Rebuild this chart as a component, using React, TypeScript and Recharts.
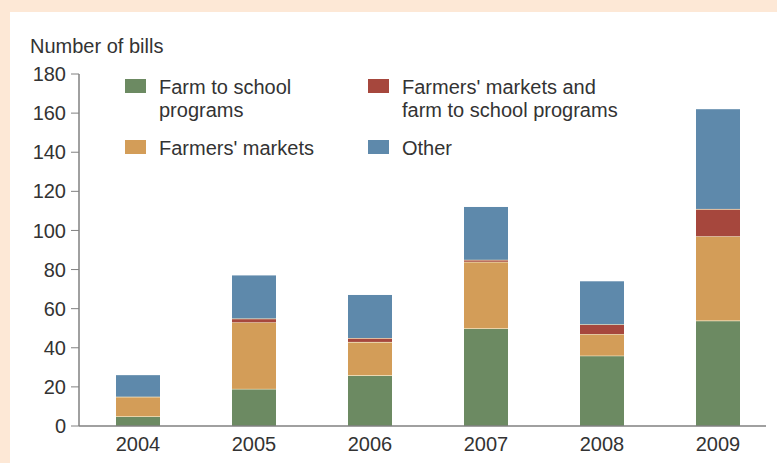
import React from "react";
import { BarChart, Bar, XAxis, YAxis, Legend } from "recharts";

const YEARS = ["2004", "2005", "2006", "2007", "2008", "2009"];
const FARM_TO_SCHOOL = [5, 19, 26, 50, 36, 54];
const FARMERS_MARKETS = [10, 34, 17, 34, 11, 43];
const BOTH = [0, 2, 2, 1, 5, 14];
const OTHER = [11, 22, 22, 27, 22, 51];
const Y_TICKS = [0, 20, 40, 60, 80, 100, 120, 140, 160, 180];
const BOUNDARY_TICKS = [0, 1, 2, 3, 4, 5, 6];

const COLORS = {
  farm: "#6c8a62",
  markets: "#d39d58",
  both: "#a6473d",
  other: "#5e89ab",
};

const AXIS = "#808080";
const TEXT = "#333333";
const FONT = "'Liberation Sans', Arial, sans-serif";
const FS = 20;

const data = YEARS.map((year, i) => ({
  year,
  farm: FARM_TO_SCHOOL[i],
  markets: FARMERS_MARKETS[i],
  both: BOTH[i],
  other: OTHER[i],
}));

// segment with a pale separator on top, like the original
const segment = (topLine: boolean) => (props: any) => {
  const { x, y, width, height, fill } = props;
  if (!height || height <= 0) return <g />;
  return (
    <g>
      <rect x={x} y={y} width={width} height={height} fill={fill} />
      {topLine && (
        <line x1={x} x2={x + width} y1={y} y2={y} stroke="#f1e3c2" strokeWidth={1.5} />
      )}
    </g>
  );
};

const legendItems = [
  { color: COLORS.farm, lines: ["Farm to school", "programs"], left: 115, top: 67 },
  { color: COLORS.markets, lines: ["Farmers' markets"], left: 115, top: 128 },
  { color: COLORS.both, lines: ["Farmers' markets and", "farm to school programs"], left: 358, top: 67 },
  { color: COLORS.other, lines: ["Other"], left: 358, top: 128 },
];

function LegendBox() {
  return (
    <div style={{ position: "relative", width: 700, height: 120 }}>
      {legendItems.map((it) => (
        <div key={it.lines[0]} style={{ position: "absolute", left: it.left, top: it.top }}>
          <span
            style={{
              position: "absolute",
              left: 0,
              top: 0,
              width: 21,
              height: 14,
              backgroundColor: it.color,
            }}
          />
          <div
            style={{
              position: "absolute",
              left: 34,
              top: -3,
              whiteSpace: "nowrap",
              fontSize: FS,
              lineHeight: "23px",
              color: TEXT,
            }}
          >
            {it.lines.map((l) => (
              <div key={l}>{l}</div>
            ))}
          </div>
        </div>
      ))}
    </div>
  );
}

export default function App() {
  return (
    <div
      style={{
        position: "relative",
        width: 777,
        height: 463,
        background: "#fde8d6",
        fontFamily: FONT,
        overflow: "hidden",
      }}
    >
      <style>{"body{margin:0}"}</style>
      <div
        style={{
          position: "absolute",
          left: 10,
          top: 12,
          width: 767,
          height: 451,
          background: "#ffffff",
        }}
      >
        <div
          style={{
            position: "absolute",
            left: 20,
            top: 23,
            fontSize: FS,
            color: TEXT,
            whiteSpace: "nowrap",
          }}
        >
          Number of bills
        </div>
        <BarChart
          width={767}
          height={451}
          data={data}
          margin={{ top: 62, right: 11, left: 0, bottom: 7 }}
          barSize={44}
          style={{ fontFamily: FONT }}
        >
          <XAxis
            xAxisId="grid"
            type="number"
            domain={[0, 6]}
            ticks={BOUNDARY_TICKS}
            tick={false}
            tickSize={10}
            axisLine={false}
            stroke={AXIS}
            height={0}
            allowDataOverflow
          />
          <XAxis
            xAxisId="cat"
            dataKey="year"
            tickLine={false}
            tickSize={0}
            tickMargin={11}
            padding={{ left: 1, right: -10 }}
            axisLine={{ stroke: AXIS, strokeWidth: 1.5 }}
            tick={{ fill: TEXT, fontSize: FS }}
            height={30}
            interval={0}
          />
          <YAxis
            domain={[0, 180]}
            ticks={Y_TICKS}
            width={69}
            tickSize={8}
            tickMargin={5}
            axisLine={{ stroke: AXIS, strokeWidth: 1.5 }}
            tickLine={{ stroke: AXIS }}
            tick={{ fill: TEXT, fontSize: FS }}
            interval={0}
          />
          <Legend
            layout="horizontal"
            verticalAlign="middle"
            align="center"
            wrapperStyle={{ position: "absolute", left: 0, top: 0, width: 700 }}
            content={() => <LegendBox />}
          />
          <Bar xAxisId="cat" dataKey="farm" stackId="a" fill={COLORS.farm} shape={segment(true)} isAnimationActive={false} />
          <Bar xAxisId="cat" dataKey="markets" stackId="a" fill={COLORS.markets} shape={segment(true)} isAnimationActive={false} />
          <Bar xAxisId="cat" dataKey="both" stackId="a" fill={COLORS.both} shape={segment(true)} isAnimationActive={false} />
          <Bar xAxisId="cat" dataKey="other" stackId="a" fill={COLORS.other} shape={segment(false)} isAnimationActive={false} />
        </BarChart>
      </div>
    </div>
  );
}
